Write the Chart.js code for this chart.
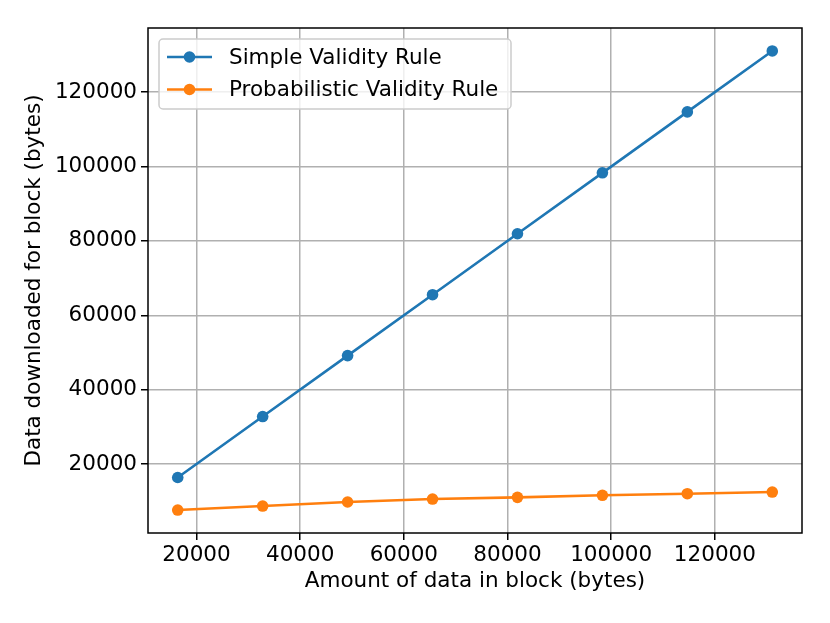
<!DOCTYPE html>
<html>
<head>
<meta charset="utf-8">
<script src="https://cdn.jsdelivr.net/npm/chart.js@4.4.0/dist/chart.umd.min.js"></script>
<style>
  html, body { margin: 0; padding: 0; background: #fff; }
  #chart { display: block; }
</style>
</head>
<body>
<canvas id="chart" width="830" height="623"></canvas>
<script>
const blockSizes = [16384, 32768, 49152, 65536, 81920, 98304, 114688, 131072];
const simpleRule = [16384, 32768, 49152, 65536, 81920, 98304, 114688, 131072];
const probabilisticRule = [7630, 8710, 9790, 10590, 11050, 11590, 12020, 12470];
const xTickValues = [20000, 40000, 60000, 80000, 100000, 120000];
const yTickValues = [20000, 40000, 60000, 80000, 100000, 120000];
const seriesNames = ['Simple Validity Rule', 'Probabilistic Validity Rule'];
const seriesColors = ['#1f77b4', '#ff7f0e'];

const fontSize = 21.5;

// matplotlib-style auto limits: data range plus 5% each side
function paddedRange(values) {
  const lo = Math.min(...values);
  const hi = Math.max(...values);
  const pad = (hi - lo) * 0.05;
  return [lo - pad, hi + pad];
}

const [xMin, xMax] = paddedRange(blockSizes);
const [yMin, yMax] = paddedRange(simpleRule.concat(probabilisticRule));

const toPoints = (ys) => blockSizes.map((x, i) => ({ x, y: ys[i] }));

const frameAndLegend = {
  id: 'frameAndLegend',
  afterDraw(chart) {
    const { ctx, chartArea: a } = chart;
    ctx.save();
    ctx.strokeStyle = '#000';
    ctx.lineWidth = 1.5;
    ctx.strokeRect(a.left, a.top, a.right - a.left, a.bottom - a.top);

    // legend box in the upper left corner, like matplotlib's loc='best'
    const box = { x: 159, y: 39, w: 352, h: 70 };
    ctx.beginPath();
    ctx.roundRect(box.x, box.y, box.w, box.h, 4);
    ctx.fillStyle = 'rgba(255,255,255,0.8)';
    ctx.fill();
    ctx.strokeStyle = '#cccccc';
    ctx.lineWidth = 1.5;
    ctx.stroke();

    ctx.font = fontSize + 'px "DejaVu Sans"';
    ctx.textBaseline = 'middle';
    ctx.textAlign = 'left';
    chart.data.datasets.forEach((ds, i) => {
      const y = 57 + i * 32.5;
      ctx.strokeStyle = ds.borderColor;
      ctx.lineWidth = 2.6;
      ctx.beginPath();
      ctx.moveTo(167, y);
      ctx.lineTo(212, y);
      ctx.stroke();
      ctx.fillStyle = ds.borderColor;
      ctx.beginPath();
      ctx.arc(189.5, y, 5.8, 0, Math.PI * 2);
      ctx.fill();
      ctx.fillStyle = '#000';
      ctx.fillText(ds.label, 229, y + 1);
    });
    ctx.restore();
  }
};

const axisCommon = {
  type: 'linear',
  grid: { color: '#b0b0b0', lineWidth: 1.5, tickColor: '#000', tickLength: 7, tickWidth: 1.5 },
  border: { display: false },
  ticks: { color: '#000', font: { size: fontSize }, padding: 4, callback: (v) => String(v) }
};

Chart.defaults.font.family = '"DejaVu Sans", sans-serif';
Chart.defaults.color = '#000';

new Chart(document.getElementById('chart'), {
  type: 'line',
  data: {
    datasets: [
      { label: seriesNames[0], data: toPoints(simpleRule), borderColor: seriesColors[0], backgroundColor: seriesColors[0] },
      { label: seriesNames[1], data: toPoints(probabilisticRule), borderColor: seriesColors[1], backgroundColor: seriesColors[1] }
    ].map((d) => ({ ...d, borderWidth: 2.6, pointRadius: 5.8, pointHoverRadius: 5.8, pointBorderWidth: 0, tension: 0, fill: false }))
  },
  options: {
    responsive: false,
    animation: false,
    devicePixelRatio: 1,
    layout: { padding: { top: 28, right: 28, left: 0, bottom: 0 } },
    plugins: { legend: { display: false }, tooltip: { enabled: false } },
    scales: {
      x: {
        ...axisCommon,
        min: xMin,
        max: xMax,
        ticks: { ...axisCommon.ticks, padding: 3 },
        afterBuildTicks: (s) => { s.ticks = xTickValues.map((value) => ({ value })); },
        afterFit: (s) => { s.height = 90; },
        title: { display: true, text: 'Amount of data in block (bytes)', color: '#000', font: { size: fontSize }, padding: { top: 29, bottom: 29 } }
      },
      y: {
        ...axisCommon,
        min: yMin,
        max: yMax,
        afterBuildTicks: (s) => { s.ticks = yTickValues.map((value) => ({ value })); },
        afterFit: (s) => { s.width = 148; },
        title: { display: true, text: 'Data downloaded for block (bytes)', color: '#000', font: { size: fontSize }, padding: { top: 22, bottom: 22 } }
      }
    }
  },
  plugins: [frameAndLegend]
});
</script>
</body>
</html>
